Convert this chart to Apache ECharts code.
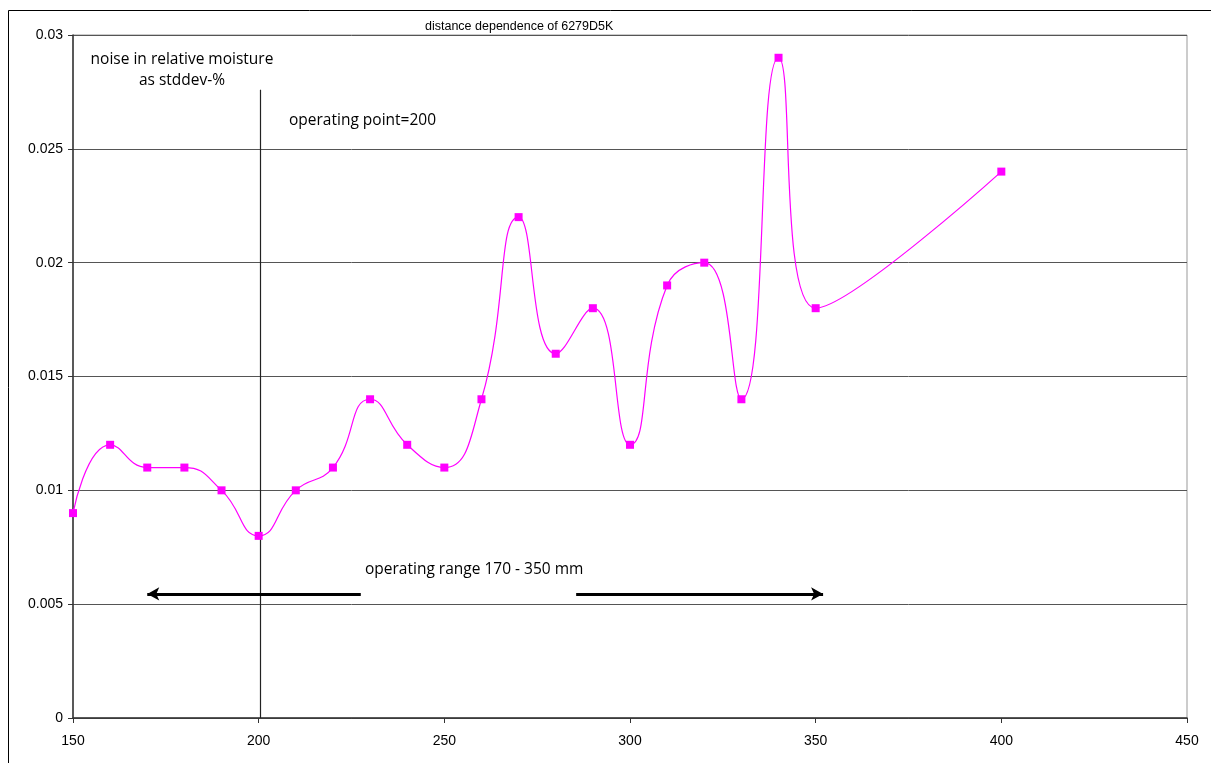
<!DOCTYPE html>
<html>
<head>
<meta charset="utf-8">
<script src="https://cdn.jsdelivr.net/npm/echarts@6/dist/echarts.min.js"></script>
<style>
  html, body { margin: 0; padding: 0; background: #fff; }
  #chart { width: 1211px; height: 763px; }
</style>
</head>
<body>
<div id="chart"></div>
<script>
// distance (mm)
const distances = [150, 160, 170, 180, 190, 200, 210, 220, 230, 240, 250, 260, 270, 280, 290, 300, 310, 320, 330, 340, 350, 400]
// noise, stddev-%
const noise = [0.009, 0.012, 0.011, 0.011, 0.010, 0.008, 0.010, 0.011, 0.014, 0.012, 0.011, 0.014, 0.022, 0.016, 0.018, 0.012, 0.019, 0.020, 0.014, 0.029, 0.018, 0.024]
// operating point marker and range arrows
const operatingPoint = [200.5, 0.0276]
const rangeLeft = [227.5, 170]
const rangeRight = [285.5, 352]
const rangeY = 0.00545

const chart = echarts.init(document.getElementById('chart'))

const labelFont = 'Liberation Sans, Arial, sans-serif'
const noteFont = 'Open Sans, DejaVu Sans, sans-serif'

chart.setOption({
  animation: false,
  grid: { left: 73, right: 24, top: 35, bottom: 45, show: true, borderColor: '#999', borderWidth: 1 },
  graphic: [
    // outer chart frame
    { type: 'rect', shape: { x: 8.5, y: 10.5, width: 1230, height: 800 }, style: { fill: 'none', stroke: '#000', lineWidth: 1 }, silent: true },
    { type: 'text', left: 425, top: 20, style: { text: 'distance dependence of 6279D5K', font: '12.5px ' + labelFont, fill: '#000' } },
    { type: 'text', x: 182, y: 49, style: { text: 'noise in relative moisture\nas stddev-%', font: '15.5px ' + noteFont, fill: '#000', align: 'center', lineHeight: 21 } },
    { type: 'text', x: 289, y: 113, style: { text: 'operating point=200', font: '15.5px ' + noteFont, fill: '#000' } },
    { type: 'text', x: 365, y: 562, style: { text: 'operating range 170 - 350 mm', font: '15.5px ' + noteFont, fill: '#000' } }
  ],
  xAxis: {
    type: 'value',
    min: 150,
    max: 450,
    interval: 50,
    axisLine: { lineStyle: { color: '#333', width: 1.5 } },
    axisTick: { length: 5, lineStyle: { color: '#333' } },
    axisLabel: { color: '#000', fontFamily: labelFont, fontSize: 14, margin: 16 },
    splitLine: { show: false }
  },
  yAxis: {
    type: 'value',
    min: 0,
    max: 0.03,
    interval: 0.005,
    axisLine: { show: true, lineStyle: { color: '#333', width: 1.5 } },
    axisTick: { show: true, length: 5, lineStyle: { color: '#333' } },
    axisLabel: { color: '#000', fontFamily: labelFont, fontSize: 14, margin: 10 },
    splitLine: { lineStyle: { color: '#555', width: 1 } }
  },
  series: [
    {
      type: 'line',
      data: distances.map((d, i) => [d, noise[i]]),
      smooth: 0.5,
      symbol: 'rect',
      symbolSize: 8,
      itemStyle: { color: '#ff00ff' },
      lineStyle: { color: '#ff00ff', width: 1.2 },
      z: 5,
      markLine: {
        silent: true,
        animation: false,
        label: { show: false },
        data: [
          [
            { coord: [operatingPoint[0], 0], symbol: 'none', lineStyle: { color: '#222', width: 1.2, type: 'solid' } },
            { coord: operatingPoint, symbol: 'none' }
          ],
          [
            { coord: [rangeLeft[0], rangeY], symbol: 'none', lineStyle: { color: '#000', width: 3, type: 'solid' } },
            { coord: [rangeLeft[1], rangeY], symbol: 'arrow', symbolSize: [10, 12] }
          ],
          [
            { coord: [rangeRight[0], rangeY], symbol: 'none', lineStyle: { color: '#000', width: 3, type: 'solid' } },
            { coord: [rangeRight[1], rangeY], symbol: 'arrow', symbolSize: [10, 12] }
          ]
        ]
      }
    }
  ]
})
</script>
</body>
</html>
